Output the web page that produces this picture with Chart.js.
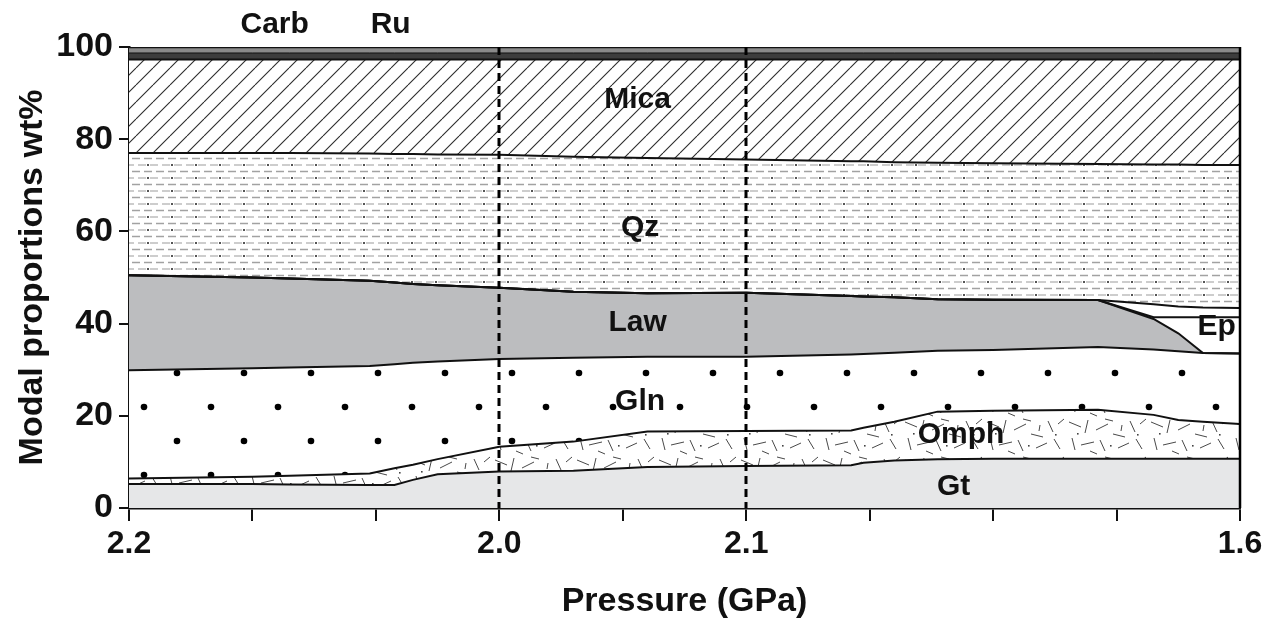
<!DOCTYPE html>
<html>
<head>
<meta charset="utf-8">
<title>Modal proportions vs pressure</title>
<script src="https://cdn.jsdelivr.net/npm/chart.js@4.4.1/dist/chart.umd.min.js"></script>
<style>
  html, body { margin: 0; padding: 0; background: #fff; }
  #wrap { width: 1262px; height: 622px; }
</style>
</head>
<body>
<div id="wrap"><canvas id="modeChart" width="1262" height="622"></canvas></div>
<script>
// sample positions along the P path (0 = 2.2 GPa ... 9 = 1.6 GPa)
const xPos = [0, 1, 1.3, 1.95, 2.15, 2.3, 2.5, 3, 3.6, 4.2, 5, 5.85, 5.95, 6.2, 6.55, 7, 7.85, 8.3, 8.5, 8.7, 9];

// upper boundary of each field, cumulative wt%
const gtTop    = [5.2, 5.2, 5.1, 5.0, 5.0, 6.1, 7.3, 7.9, 8.1, 8.9, 9.1, 9.3, 9.8, 10.3, 10.6, 10.7, 10.7, 10.7, 10.7, 10.7, 10.7];
const omphTop  = [6.4, 6.8, 7.0, 7.5, 8.6, 9.4, 10.6, 13.3, 14.4, 16.6, 16.7, 16.8, 17.4, 18.7, 20.9, 21.1, 21.3, 20.2, 19.1, 18.7, 18.2];
const glnTop   = [29.9, 30.3, 30.5, 30.8, 31.2, 31.5, 31.8, 32.3, 32.6, 32.8, 32.8, 33.3, 33.4, 33.7, 34.1, 34.3, 34.9, 34.4, 34.0, 33.6, 33.5];
const lawTop   = [50.5, 50.0, 49.8, 49.3, 48.9, 48.6, 48.3, 47.8, 46.9, 46.6, 46.7, 46.0, 45.9, 45.7, 45.3, 45.2, 45.1, 41.0, 37.9, 33.6, 33.5];
const epTop    = [50.5, 50.0, 49.8, 49.3, 48.9, 48.6, 48.3, 47.8, 46.9, 46.6, 46.7, 46.0, 45.9, 45.7, 45.3, 45.2, 45.1, 41.4, 41.4, 41.4, 41.4];
const epUpTop  = [50.5, 50.0, 49.8, 49.3, 48.9, 48.6, 48.3, 47.8, 46.9, 46.6, 46.7, 46.0, 45.9, 45.7, 45.3, 45.2, 45.1, 44.2, 43.7, 43.5, 43.4];
const qzTop    = [77.0, 77.0, 77.0, 76.9, 76.8, 76.8, 76.7, 76.6, 76.2, 75.9, 75.6, 75.2, 75.2, 75.0, 74.9, 74.8, 74.6, 74.5, 74.5, 74.4, 74.4];
const micaTop  = [97.3, 97.3, 97.3, 97.3, 97.3, 97.3, 97.3, 97.3, 97.3, 97.3, 97.3, 97.3, 97.3, 97.3, 97.3, 97.3, 97.3, 97.3, 97.3, 97.3, 97.3];
const ruTop    = [98.7, 98.7, 98.7, 98.7, 98.7, 98.7, 98.7, 98.7, 98.7, 98.7, 98.7, 98.7, 98.7, 98.7, 98.7, 98.7, 98.7, 98.7, 98.7, 98.7, 98.7];
const carbTop  = [100, 100, 100, 100, 100, 100, 100, 100, 100, 100, 100, 100, 100, 100, 100, 100, 100, 100, 100, 100, 100];

// x tick labels (pressure, GPa) and the two dashed reference lines
const tickIndex = [0, 3, 5, 9];
const tickText = ['2.2', '2.0', '2.1', '1.6'];
const dashedAt = [3, 5];

// field names and where they are written (x index, wt%)
const fieldNames = ['Carb', 'Ru', 'Mica', 'Qz', 'Law', 'Ep', 'Gln', 'Omph', 'Gt'];
const fieldLabelX = [1.18, 2.12, 4.12, 4.14, 4.12, 8.81, 4.14, 6.74, 6.68];
const fieldLabelY = [104.8, 104.8, 88.5, 60.7, 40.1, 39.3, 23.0, 15.8, 4.6];

const FONT = "'Liberation Sans', Arial, Helvetica, sans-serif";

const canvas = document.getElementById('modeChart');
const ctx = canvas.getContext('2d');

// --- fill patterns ---
function makePattern(w, h, draw) {
    const c = document.createElement('canvas');
    c.width = w;
    c.height = h;
    const g = c.getContext('2d');
    g.fillStyle = '#fff';
    g.fillRect(0, 0, w, h);
    draw(g, w, h);
    return ctx.createPattern(c, 'repeat');
}

// mica: diagonal hatch
const micaFill = makePattern(17, 17, (g, w, h) => {
    g.strokeStyle = '#2a2a2a';
    g.lineWidth = 1.1;
    for (const o of [-w, 0, w]) {
        g.beginPath();
        g.moveTo(o, h);
        g.lineTo(o + w, 0);
        g.stroke();
    }
});

// quartz: rows of short grey dashes
const qzFill = makePattern(24, 13, (g) => {
    g.lineWidth = 1.3;
    g.strokeStyle = '#a2a2a2';
    g.beginPath();
    g.moveTo(0, 2.5); g.lineTo(8, 2.5);
    g.moveTo(12, 2.5); g.lineTo(20, 2.5);
    g.stroke();
    g.strokeStyle = '#bdbdbd';
    g.beginPath();
    g.moveTo(6, 9); g.lineTo(14, 9);
    g.moveTo(18, 9); g.lineTo(24, 9);
    g.moveTo(0, 9); g.lineTo(2, 9);
    g.stroke();
    g.fillStyle = '#555';
    g.fillRect(3, 8, 2, 2);
});

// glaucophane: staggered dots
const glnFill = makePattern(67, 68, (g, w, h) => {
    g.fillStyle = '#000';
    const dots = [[43, 33], [10, 67]];
    for (const [dx, dy] of dots) {
        for (const ox of [-w, 0, w]) {
            for (const oy of [-h, 0, h]) {
                g.beginPath();
                g.arc(dx + ox, dy + oy, 3.3, 0, Math.PI * 2);
                g.fill();
            }
        }
    }
});

// omphacite: scattered short strokes
const omphStrokes = [
    [3, 4, 15, 9], [22, 2, 19, 15], [30, 12, 42, 6], [47, 16, 59, 19], [64, 3, 69, 14],
    [6, 20, 9, 32], [15, 27, 28, 24], [34, 22, 39, 33], [52, 30, 63, 25], [70, 21, 76, 31],
    [39, 1, 47, 3], [74, 6, 80, 1], [24, 33, 31, 36], [56, 7, 55, 13]
];
const omphFill = makePattern(82, 38, (g) => {
    g.strokeStyle = '#333';
    g.lineWidth = 0.9;
    g.beginPath();
    for (const [a, b, c, d] of omphStrokes) {
        g.moveTo(a, b);
        g.lineTo(c, d);
    }
    g.stroke();
    g.fillStyle = '#444';
    g.fillRect(11, 15, 1.6, 1.6);
    g.fillRect(44, 27, 1.6, 1.6);
    g.fillRect(71, 16, 1.6, 1.6);
});

function toPoints(arr) {
    return arr.map((v, i) => ({ x: xPos[i], y: v }));
}

function layer(label, values, fill, bg, line) {
    return {
        label: label,
        data: toPoints(values),
        fill: fill,
        backgroundColor: bg,
        borderColor: '#111',
        borderWidth: line,
        pointRadius: 0,
        tension: 0
    };
}

const datasets = [
    layer('Gt', gtTop, 'origin', '#e6e7e8', 2),
    layer('Omph', omphTop, '-1', omphFill, 2),
    layer('Gln', glnTop, '-1', glnFill, 2),
    layer('Law', lawTop, '-1', '#bcbdbf', 2),
    layer('Ep', epTop, '-1', '#ffffff', 2),
    layer('Ep upper', epUpTop, '-1', '#ffffff', 2),
    layer('Qz', qzTop, '-1', qzFill, 2),
    layer('Mica', micaTop, '-1', micaFill, 2),
    layer('Ru', ruTop, '-1', '#3d3d3d', 1),
    layer('Carb', carbTop, '-1', '#8a8a8a', 2.5)
];

// dashed pressure markers, right frame and field names
const overlayPlugin = {
    id: 'overlay',
    afterDatasetsDraw(chart) {
        const c = chart.ctx;
        const xs = chart.scales.x;
        const ys = chart.scales.y;
        const top = ys.getPixelForValue(100);
        const bottom = ys.getPixelForValue(0);

        c.save();
        c.strokeStyle = '#000';
        c.lineWidth = 3;
        c.setLineDash([8, 5]);
        dashedAt.forEach(v => {
            const px = Math.round(xs.getPixelForValue(v));
            c.beginPath();
            c.moveTo(px, top);
            c.lineTo(px, bottom);
            c.stroke();
        });
        c.setLineDash([]);
        c.lineWidth = 2.5;
        const right = xs.getPixelForValue(9);
        c.beginPath();
        c.moveTo(right, top);
        c.lineTo(right, bottom);
        c.stroke();
        c.restore();
    },
    afterDraw(chart) {
        const c = chart.ctx;
        const xs = chart.scales.x;
        const ys = chart.scales.y;
        c.save();
        c.fillStyle = '#111';
        c.font = 'bold 30px ' + FONT;
        c.textAlign = 'center';
        c.textBaseline = 'middle';
        fieldNames.forEach((name, i) => {
            c.fillText(name, xs.getPixelForValue(fieldLabelX[i]), ys.getPixelForValue(fieldLabelY[i]));
        });
        c.restore();
    }
};

new Chart(ctx, {
    type: 'line',
    data: { datasets: datasets },
    options: {
        responsive: false,
        animation: false,
        devicePixelRatio: 1,
        layout: { padding: { top: 47, right: 22, left: 0, bottom: 0 } },
        plugins: {
            legend: { display: false },
            tooltip: { enabled: false },
            filler: { drawTime: 'beforeDatasetsDraw' }
        },
        scales: {
            x: {
                type: 'linear',
                min: 0,
                max: 9,
                afterFit: s => {
                    s.height = 114;
                    s.paddingLeft = 0;
                    s.paddingRight = 0;
                },
                ticks: {
                    stepSize: 1,
                    autoSkip: false,
                    maxRotation: 0,
                    padding: 4,
                    color: '#111',
                    font: { family: FONT, size: 32, weight: 'bold' },
                    callback: v => {
                        const k = tickIndex.indexOf(v);
                        return k >= 0 ? tickText[k] : '';
                    }
                },
                grid: { drawOnChartArea: false, drawTicks: true, tickLength: 13, color: '#111', lineWidth: 2 },
                border: { display: true, color: '#111', width: 2.5 },
                title: {
                    display: true,
                    text: 'Pressure (GPa)',
                    color: '#111',
                    font: { family: FONT, size: 34, weight: 'bold' },
                    padding: { top: 0, bottom: 0 }
                }
            },
            y: {
                min: 0,
                max: 100,
                afterFit: s => {
                    s.width = 129;
                    s.paddingTop = 0;
                    s.paddingBottom = 0;
                },
                ticks: {
                    stepSize: 20,
                    padding: 6,
                    color: '#111',
                    font: { family: FONT, size: 34, weight: 'bold' }
                },
                grid: { drawOnChartArea: false, drawTicks: true, tickLength: 10, color: '#111', lineWidth: 2 },
                border: { display: true, color: '#111', width: 2.5 },
                title: {
                    display: true,
                    text: 'Modal proportions wt%',
                    color: '#111',
                    font: { family: FONT, size: 34, weight: 'bold' },
                    padding: { top: 12, bottom: 0 }
                }
            }
        }
    },
    plugins: [overlayPlugin]
});
</script>
</body>
</html>
